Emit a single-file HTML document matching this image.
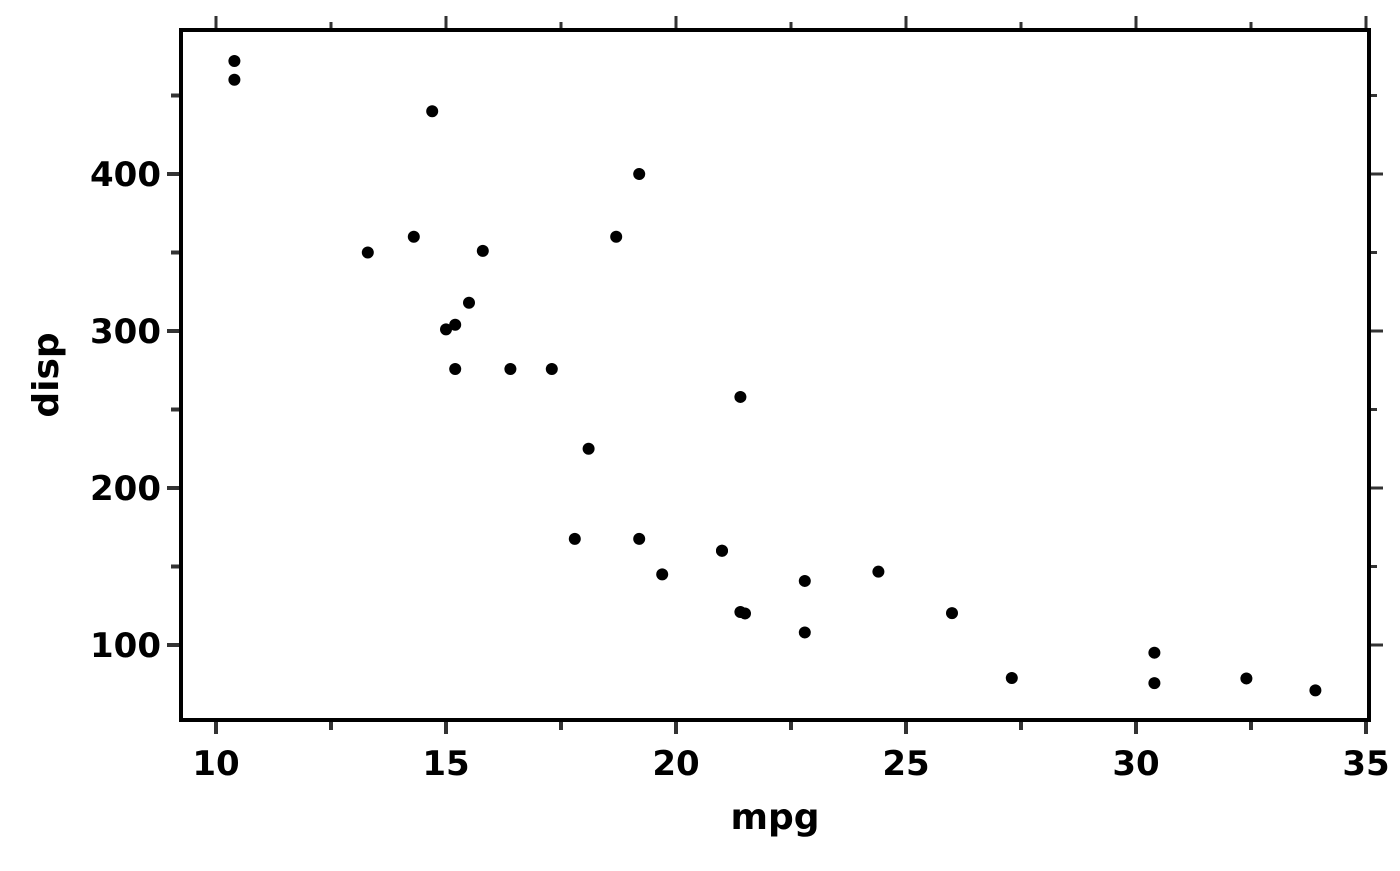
<!DOCTYPE html>
<html><head><meta charset="utf-8"><style>
html,body{margin:0;padding:0;background:#fff;}
svg text{font-family:"DejaVu Sans","Liberation Sans",sans-serif;font-weight:bold;fill:#000;}
</style></head><body>
<svg id="chart" width="1400" height="866" viewBox="0 0 1400 866" xmlns="http://www.w3.org/2000/svg">
<rect x="181" y="30" width="1188" height="690" fill="none" stroke="#000" stroke-width="4"/>
<g id="ticks"></g>
<g id="points"></g>
<text x="775" y="829" font-size="36" text-anchor="middle">mpg</text>
<text transform="translate(58,375) rotate(-90)" font-size="36" text-anchor="middle">disp</text>
</svg>
<script>
const mpg=[21,21,22.8,21.4,18.7,18.1,14.3,24.4,22.8,19.2,17.8,16.4,17.3,15.2,10.4,10.4,14.7,32.4,30.4,33.9,21.5,15.5,15.2,13.3,19.2,27.3,26,30.4,15.8,19.7,15,21.4];
const disp=[160,160,108,258,360,225,360,146.7,140.8,167.6,167.6,275.8,275.8,275.8,472,460,440,78.7,75.7,71.1,120.1,318,304,350,400,79,120.3,95.1,351,145,301,121];
const xTicks=[10,15,20,25,30,35];
const yTicks=[100,200,300,400];
const NS="http://www.w3.org/2000/svg";
const sx=v=>216+(v-10)*46;
const sy=v=>645-(v-100)*1.57;
const tg=document.getElementById('ticks'), pg=document.getElementById('points');
function ln(x1,y1,x2,y2,w,name){const l=document.createElementNS(NS,'line');
l.setAttribute('x1',x1);l.setAttribute('y1',y1);l.setAttribute('x2',x2);l.setAttribute('y2',y2);
l.setAttribute('stroke','#333');l.setAttribute('stroke-width',w);


tg.appendChild(l);}
function tx(x,y,s,anchor,name){const t=document.createElementNS(NS,'text');
t.setAttribute('x',x);t.setAttribute('y',y);t.setAttribute('font-size','34');t.setAttribute('text-anchor',anchor);t.textContent=s;


tg.appendChild(t);}
xTicks.forEach((v,i)=>{const x=sx(v);
ln(x,722,x,734,4,'x-major-tick');ln(x,28,x,16,3,'x-top-tick');
tx(x,775,String(v),'middle','x-tick-label');
if(i<xTicks.length-1){const m=sx(v+2.5);ln(m,722,m,730,4,'x-minor-tick');ln(m,28,m,22,3,'x-top-minor-tick');}
});
yTicks.forEach(v=>{const y=sy(v);
ln(179,y,167,y,4,'y-major-tick');ln(1371,y,1383,y,3,'y-right-tick');
tx(161,y+12,String(v),'end','y-tick-label');});
[50,150,250,350,450].forEach(v=>{const y=sy(v);if(y>30&&y<720){ln(179,y,171,y,4,'y-minor-tick');ln(1371,y,1377,y,3,'y-right-minor-tick');}});
mpg.forEach((m,i)=>{const c=document.createElementNS(NS,'circle');
c.setAttribute('cx',sx(m));c.setAttribute('cy',sy(disp[i]));c.setAttribute('r',6);c.setAttribute('fill','#000');


pg.appendChild(c);});
</script>
</body></html>
